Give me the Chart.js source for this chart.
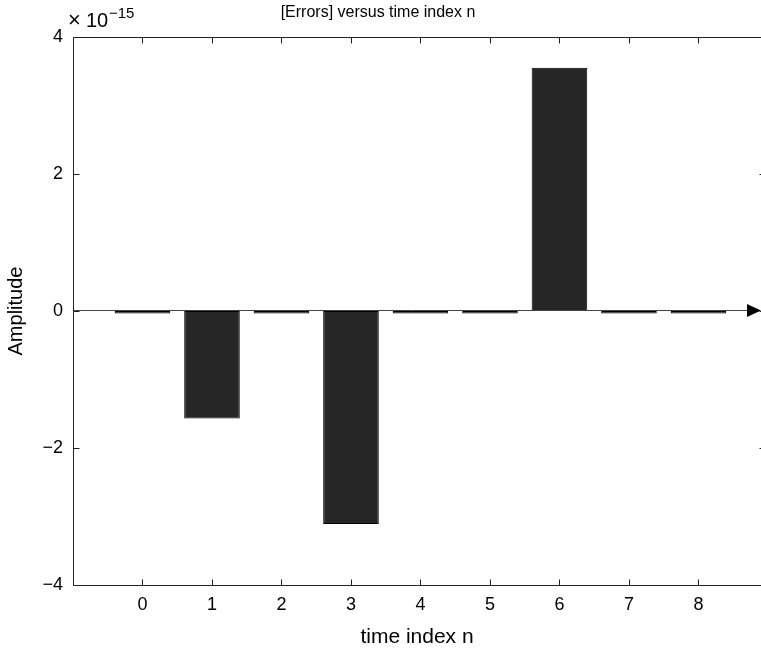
<!DOCTYPE html>
<html>
<head>
<meta charset="utf-8">
<script src="https://cdn.jsdelivr.net/npm/chart.js@4/dist/chart.umd.min.js"></script>
<style>
html,body{margin:0;padding:0;background:#fff;overflow:hidden;}
#wrap{width:761px;height:650px;}
</style>
</head>
<body>
<div id="wrap"><canvas id="c" width="761" height="650"></canvas></div>
<script>
// time indices n
const categories = [0, 1, 2, 3, 4, 5, 6, 7, 8];
// error amplitudes, in units of 1e-15
const errorValues = [-0.035, -1.57, -0.035, -3.11, -0.035, -0.035, 3.55, -0.035, -0.035];
const xTickValues = [0, 1, 2, 3, 4, 5, 6, 7, 8];
const yTickValues = [-4, -2, 0, 2, 4];
const xMin = -1, xMaxVisible = 8.9, xAxisEnd = 9;
const titleText = "[Errors] versus time index n";
const xLabel = "time index n";
const yLabel = "Amplitude";

const FONT = "'Liberation Sans', Arial, Helvetica, sans-serif";

const decor = {
  id: 'decor',
  afterDatasetsDraw(chart) {
    const ctx = chart.ctx, a = chart.chartArea;
    const ys = chart.scales.y;
    ctx.save();
    const y0 = Math.round(ys.getPixelForValue(0)) - 0.5;
    ctx.strokeStyle = '#444';
    ctx.lineWidth = 1;
    ctx.beginPath();
    ctx.moveTo(a.left, y0);
    ctx.lineTo(750, y0);
    ctx.stroke();
    ctx.fillStyle = '#000';
    ctx.beginPath();
    ctx.moveTo(761, y0);
    ctx.lineTo(747, y0 - 6.5);
    ctx.lineTo(747, y0 + 6.5);
    ctx.closePath();
    ctx.fill();
    ctx.restore();
  },
  afterDraw(chart) {
    const ctx = chart.ctx, a = chart.chartArea;
    const xs = chart.scales.x, ys = chart.scales.y;
    ctx.save();
    ctx.strokeStyle = '#222';
    ctx.lineWidth = 1;
    const L = Math.round(a.left) + 0.5;
    const R = Math.round(xs.getPixelForValue(xAxisEnd)) + 0.5;
    const T = Math.round(a.top) + 0.5, B = Math.round(a.bottom) + 0.5;
    ctx.beginPath();
    ctx.moveTo(L, T); ctx.lineTo(R, T); ctx.lineTo(R, B); ctx.lineTo(L, B); ctx.closePath();
    ctx.stroke();
    const tl = 6;
    ctx.beginPath();
    xTickValues.forEach(v => {
      const px = Math.round(xs.getPixelForValue(v)) + 0.5;
      ctx.moveTo(px, B); ctx.lineTo(px, B - tl);
      ctx.moveTo(px, T); ctx.lineTo(px, T + tl);
    });
    yTickValues.forEach(v => {
      const py = Math.round(ys.getPixelForValue(v)) + 0.5;
      ctx.moveTo(L, py); ctx.lineTo(L + tl, py);
      ctx.moveTo(R, py); ctx.lineTo(R - 9, py);
    });
    ctx.stroke();
    // exponent label
    ctx.fillStyle = '#000';
    ctx.textBaseline = 'alphabetic';
    ctx.textAlign = 'left';
    ctx.font = '22px ' + FONT;
    ctx.fillText('\u00D7', 68, 27);
    ctx.font = '20px ' + FONT;
    ctx.fillText('10', 86, 27);
    ctx.font = '15px ' + FONT;
    ctx.fillText('\u221215', 109, 18);
    // title
    ctx.font = '16px ' + FONT;
    ctx.textAlign = 'center';
    ctx.textBaseline = 'middle';
    ctx.fillText(titleText, 378, 13);
    ctx.restore();
  }
};

new Chart(document.getElementById('c'), {
  type: 'bar',
  data: {
    datasets: [{
      data: categories.map((c, i) => ({ x: c, y: errorValues[i] })),
      backgroundColor: '#262626',
      borderColor: '#000',
      borderWidth: 1,
      barPercentage: 0.8,
      categoryPercentage: 1.0,
      borderSkipped: false
    }]
  },
  options: {
    responsive: false,
    animation: false,
    layout: { padding: { top: 37, right: 0, left: 0, bottom: 0 } },
    plugins: { legend: { display: false }, title: { display: false }, tooltip: { enabled: false } },
    scales: {
      x: {
        type: 'linear',
        offset: false,
        min: xMin, max: xMaxVisible,
        afterBuildTicks: s => { s.ticks = xTickValues.map(v => ({ value: v })); },
        afterFit: s => { s.height = 65; },
        grid: { display: false, drawTicks: false, offset: false },
        border: { display: false },
        ticks: { color: '#000', font: { family: FONT, size: 18 }, padding: 9, maxRotation: 0, autoSkip: false },
        title: { display: true, text: xLabel, color: '#000', font: { family: FONT, size: 21 }, padding: { top: 2, bottom: 0 } }
      },
      y: {
        min: -4, max: 4,
        afterBuildTicks: s => { s.ticks = yTickValues.map(v => ({ value: v })); },
        afterFit: s => { s.width = 73; },
        grid: { display: false, drawTicks: false },
        border: { display: false },
        ticks: {
          color: '#000', font: { family: FONT, size: 18 }, padding: 10,
          callback: v => (v < 0 ? '\u2212' + Math.abs(v) : String(v))
        },
        title: { display: true, text: yLabel, color: '#000', font: { family: FONT, size: 20 }, padding: { top: 4, bottom: 4 } }
      }
    }
  },
  plugins: [decor]
});
</script>
</body>
</html>
